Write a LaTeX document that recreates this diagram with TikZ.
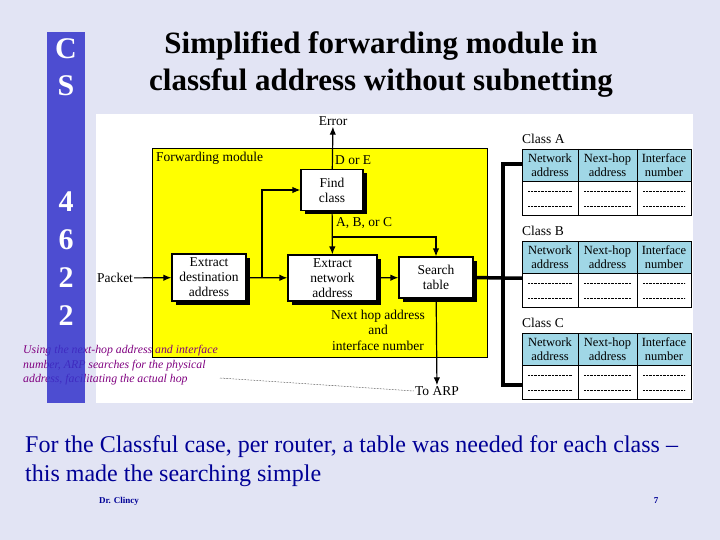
\documentclass[tikz,border=0pt]{standalone}
\usepackage{fontspec}
\setmainfont{Liberation Serif}
\usetikzlibrary{positioning, calc, shadows, arrows.meta}
\definecolor{sfondo}{RGB}{226,228,244}
\definecolor{barra}{RGB}{51,51,204}
\definecolor{giallo}{RGB}{255,255,0}
\definecolor{intest}{RGB}{160,215,230}
\definecolor{viola}{RGB}{128,0,128}
\definecolor{blunotte}{RGB}{0,0,150}

\begin{document}
\begin{tikzpicture}[x=1pt,y=-1pt,>={Latex[length=8pt,width=6.5pt]},
        blocco/.style={draw=black, line width=1.2pt, fill=white, align=center, inner sep=0pt,
            font=\fontsize{13.5}{15}\selectfont,
            drop shadow={shadow xshift=4pt, shadow yshift=-4pt, fill=black, opacity=1}},
        testo/.style={font=\fontsize{13.5}{15.5}\selectfont, inner sep=1pt},
        linea/.style={line width=1.2pt},
        bus/.style={line width=3.5pt, line join=miter},
        tabella/.style={anchor=north west, minimum width=169pt, minimum height=66pt, inner sep=0pt},
        cifra/.style={text=white, font=\fontsize{30}{30}\selectfont\bfseries}]
        %disegno sfondo
        \fill[sfondo] (0,0) rectangle (720,540);
        %disegno area bianca
        \fill[white] (96,114) rectangle (693,403);
        %disegno modulo giallo
        \node[draw=black, fill=giallo, line width=0.8pt, anchor=north west, minimum width=335pt, minimum height=209pt, inner sep=0pt] (modulo) at (152,148) {};
        \node[testo, anchor=west] (nomemod) at (155,158) {Forwarding module};
        %disegno blocchi
        \node[blocco, minimum width=62pt, minimum height=41pt] (find) at (332,190) {Find\\class};
        \node[blocco, minimum width=74pt, minimum height=47pt] (dest) at (209,277.5) {Extract\\destination\\address};
        \node[blocco, minimum width=89pt, minimum height=46pt] (net) at (332.5,278) {Extract\\network\\address};
        \node[blocco, minimum width=74pt, minimum height=41pt] (search) at (436,277.5) {Search\\table};
        %disegno etichette
        \node[testo] (packet) at (115,278) {Packet};
        \node[testo] (err) at (333,121) {Error};
        \node[testo, anchor=west] (de) at (334,160) {D or E};
        \node[testo, anchor=west] (abc) at (335,223) {A, B, or C};
        \node[testo, align=center] (nexthop) at (378,330) {Next hop address\\and\\interface number};
        \node[testo] (toarp) at (437,391) {To ARP};
        %disegno frecce
        \coordinate (nodo) at (262,278);
        \coordinate (bivio) at (333,237);
        \draw[linea,->] (packet) -- (dest);
        \draw[linea,->] (dest) -- (net);
        \draw[linea,->] (nodo) |- (find);
        \draw[linea,->] (find) -- (err);
        \draw[linea,->] (find) -- (net);
        \draw[linea,->] (bivio) -| (search);
        \draw[linea,->] (net) -- (search);
        \draw[linea,->] (search) -- (toarp);
        %disegno tabelle
        \foreach \c/\y in {A/149, B/241, C/333}{
            \node[testo, anchor=south west, inner sep=0pt] (etich\c) at (522,\y-5) {Class \c};
            \node[tabella] (tab\c) at (522,\y) {};
            \fill[intest] (tab\c.north west) rectangle ($(tab\c.north west)+(169,32)$);
            \foreach \xa/\xb/\t in {0/56/{Network\\address}, 56/115/{Next-hop\\address}, 115/169/{Interface\\number}}{
                \node[align=center, inner sep=0pt, font=\fontsize{12.5}{14}\selectfont] at ($(tab\c.north west)+({(\xa+\xb)/2},16)$) {\t};
                \draw[densely dotted, line width=0.4pt] ($(tab\c.north west)+(\xa+6,42)$) -- ($(tab\c.north west)+(\xb-6,42)$);
                \draw[densely dotted, line width=0.4pt] ($(tab\c.north west)+(\xa+6,57)$) -- ($(tab\c.north west)+(\xb-6,57)$);
            }
            \draw[line width=0.6pt] ($(tab\c.north west)+(56,0)$) -- ++(0,66);
            \draw[line width=0.6pt] ($(tab\c.north west)+(115,0)$) -- ++(0,66);
            \draw[line width=0.6pt] ($(tab\c.north west)+(0,32)$) -- ++(169,0);
            \draw[line width=0.6pt] (tab\c.north west) rectangle (tab\c.south east);
        }
        %disegno bus
        \coordinate (bus) at (503,278);
        \coordinate (busA) at (503,164);
        \coordinate (busC) at (503,385);
        \draw[bus] (search.east) -- (bus) -- (bus -| tabB.west);
        \draw[bus] (busA -| tabA.west) -- (busA) -- (busC) -- (busC -| tabC.west);
        %disegno nota
        \node[anchor=north west, align=left, text=viola, inner sep=0pt,
            font=\fontsize{11.8}{14.5}\selectfont\itshape] (nota) at (23,345) {Using the next-hop address and interface\\number, ARP searches for the physical\\address, facilitating the actual hop};
        \coordinate (puntini) at (220,378);
        \draw[densely dotted, line width=0.5pt] (puntini) -- (toarp.west);
        %disegno barra blu
        \fill[barra, fill opacity=0.85] (47,32) rectangle (85,403);
        \foreach \t/\y [count=\i] in {C/49, S/86, 4/202, 6/240, 2/278, 2/316}
            \node[cifra] (lett\i) at (66,\y) {\t};
        %disegno titolo
        \node[font=\fontsize{31}{37}\selectfont\bfseries, align=center] (titolo) at (381,65) {Simplified forwarding module in\\classful address without subnetting};
        %disegno testo in basso
        \node[anchor=west, align=left, text=blunotte, inner sep=0pt,
            font=\fontsize{24}{29}\selectfont] (sintesi) at (25,461) {For the Classful case, per router, a table was needed for each class –\\this made the searching simple};
        \node[text=blunotte, font=\fontsize{9}{9}\selectfont\bfseries] (autore) at (119,501) {Dr. Clincy};
        \node[text=blunotte, font=\fontsize{9}{9}\selectfont\bfseries] (pagina) at (656,501) {7};
    \end{tikzpicture}
\end{document}
